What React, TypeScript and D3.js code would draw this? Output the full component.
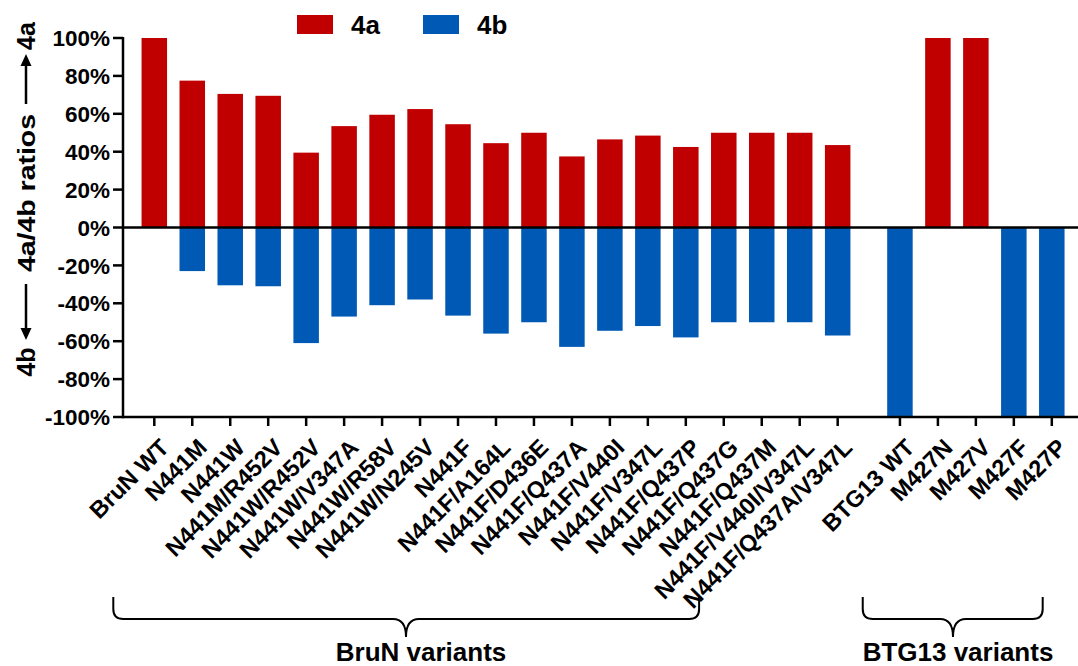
import React from "react";
import * as d3 from "d3";

// ---------- data ----------
const categories = [
  "BruN WT", "N441M", "N441W", "N441M/R452V", "N441W/R452V", "N441W/V347A",
  "N441W/R58V", "N441W/N245V", "N441F", "N441F/A164L", "N441F/D436E",
  "N441F/Q437A", "N441F/V440I", "N441F/V347L", "N441F/Q437P", "N441F/Q437G",
  "N441F/Q437M", "N441F/V440I/V347L", "N441F/Q437A/V347L",
  "BTG13 WT", "M427N", "M427V", "M427F", "M427P",
];
const values4a = [
  100, 77.5, 70.5, 69.5, 39.5, 53.5, 59.5, 62.5, 54.5, 44.5, 50, 37.5, 46.5,
  48.5, 42.5, 50, 50, 50, 43.5, 0, 100, 100, 0, 0,
];
const values4b = [
  0, -23, -30.5, -31, -61, -47, -41, -38, -46.5, -56, -50, -63, -54.5, -52,
  -58, -50, -50, -50, -57, -100, 0, 0, -100, -100,
];
const yTicks = [-100, -80, -60, -40, -20, 0, 20, 40, 60, 80, 100];
const groupNames = ["BruN variants", "BTG13 variants"];
const groupSizes = [19, 5];
const seriesNames = ["4a", "4b"];
const seriesColors = ["#C00000", "#005AB5"];

// ---------- layout ----------
const W = 1078;
const H = 666;
const FONT = "'Liberation Sans', Arial, sans-serif";
const GROUP_GAP = 0.64; // extra slot gap between groups
const axisX = 123;
const barW = 25.5;

const groupStarts = groupSizes.map((_, k) => d3.sum(groupSizes.slice(0, k)));
const groupOf = categories.map((_, i) => {
  let g = 0;
  groupStarts.forEach((s, k) => {
    if (i >= s) g = k;
  });
  return g;
});
const slots = categories.map((_, i) => i + groupOf[i] * GROUP_GAP);

const x = d3
  .scaleLinear()
  .domain([0, slots[slots.length - 1]])
  .range([154.3, 1051.8]);
const y = d3.scaleLinear().domain([-100, 100]).range([417, 38]);

// brace extents in slot units (follow label extents)
const braceSpans = [
  [-1.08, 14.35],
  [18.66, 23.4],
];
const braceTip = [406, 953];
const braceLabelX = [421, 958];

function bracePath(x0: number, x1: number, xm: number, top: number, line: number, tip: number) {
  const r = 10;
  const t = 13;
  return [
    `M${x0},${top}`,
    `L${x0},${line - r}`,
    `Q${x0},${line} ${x0 + r},${line}`,
    `L${xm - t},${line}`,
    `Q${xm},${line} ${xm},${tip}`,
    `Q${xm},${line} ${xm + t},${line}`,
    `L${x1 - r},${line}`,
    `Q${x1},${line} ${x1},${line - r}`,
    `L${x1},${top}`,
  ].join(" ");
}

export default function App() {
  const zeroY = y(0);
  return (
    <svg
      width={W}
      height={H}
      viewBox={`0 0 ${W} ${H}`}
      style={{ position: "absolute", left: 0, top: 0, background: "#fff" }}
      fontFamily={FONT}
      fontWeight="bold"
    >
      {/* bars */}
      {categories.map((c, i) => {
        const cx = x(slots[i]);
        return (
          <g key={c}>
            {values4a[i] > 0 && (
              <rect
                x={cx - barW / 2}
                y={y(values4a[i])}
                width={barW}
                height={zeroY - y(values4a[i])}
                fill={seriesColors[0]}
              />
            )}
            {values4b[i] < 0 && (
              <rect
                x={cx - barW / 2}
                y={zeroY}
                width={barW}
                height={y(values4b[i]) - zeroY}
                fill={seriesColors[1]}
              />
            )}
          </g>
        );
      })}

      {/* zero line */}
      <line x1={axisX} x2={W} y1={zeroY} y2={zeroY} stroke="#000" strokeWidth={2.5} />
      {/* x axis */}
      <line x1={axisX} x2={W} y1={y(-100)} y2={y(-100)} stroke="#000" strokeWidth={2.5} />
      {/* y axis */}
      <line x1={axisX} x2={axisX} y1={y(100) - 1} y2={y(-100) + 1.25} stroke="#000" strokeWidth={2.5} />

      {/* y ticks */}
      {yTicks.map((t) => (
        <g key={t}>
          <line x1={axisX - 10} x2={axisX} y1={y(t)} y2={y(t)} stroke="#000" strokeWidth={2.5} />
          <text
            x={axisX - 13}
            y={y(t)}
            dy="0.36em"
            textAnchor="end"
            fontSize={22.5}
            fill="#000"
          >
            {`${t}%`}
          </text>
        </g>
      ))}

      {/* x ticks + labels */}
      {categories.map((c, i) => {
        const cx = x(slots[i]);
        return (
          <g key={"t" + c}>
            <line x1={cx} x2={cx} y1={y(-100)} y2={y(-100) + 9} stroke="#000" strokeWidth={2.5} />
            <text
              transform={`translate(${cx + 16},${449}) rotate(-45)`}
              textAnchor="end"
              fontSize={23.5}
              fill="#000"
            >
              {c}
            </text>
          </g>
        );
      })}

      {/* legend */}
      {seriesNames.map((s, i) => (
        <g key={s} transform={`translate(${297 + i * 126},15)`}>
          <rect x={0} y={0} width={36} height={19} fill={seriesColors[i]} />
          <text x={54} y={18.5} fontSize={26} fill="#000">
            {s}
          </text>
        </g>
      ))}

      {/* y axis label */}
      <g fill="#000">
        <text transform="translate(26,36) rotate(-90)" textAnchor="middle" dy="0.36em" fontSize={25}>
          4a
        </text>
        <line x1={26} x2={26} y1={104} y2={64} stroke="#000" strokeWidth={2.5} />
        <path d="M26,54 L20.5,66 L31.5,66 Z" />
        <text
          transform="translate(26,193) rotate(-90)"
          textAnchor="middle"
          dy="0.36em"
          fontSize={24}
          textLength={158}
          lengthAdjust="spacingAndGlyphs"
        >
          4a/4b ratios
        </text>
        <line x1={26} x2={26} y1={284} y2={330} stroke="#000" strokeWidth={2.5} />
        <path d="M26,340 L20.5,328 L31.5,328 Z" />
        <text transform="translate(26,362) rotate(-90)" textAnchor="middle" dy="0.36em" fontSize={25}>
          4b
        </text>
      </g>

      {/* group braces */}
      {groupNames.map((g, k) => {
        const [s0, s1] = braceSpans[k];
        return (
          <g key={g}>
            <path
              d={bracePath(x(s0), x(s1), braceTip[k], 597, 619, 637)}
              fill="none"
              stroke="#000"
              strokeWidth={2}
            />
            <text x={braceLabelX[k]} y={660.5} textAnchor="middle" fontSize={26} fill="#000">
              {g}
            </text>
          </g>
        );
      })}
    </svg>
  );
}
